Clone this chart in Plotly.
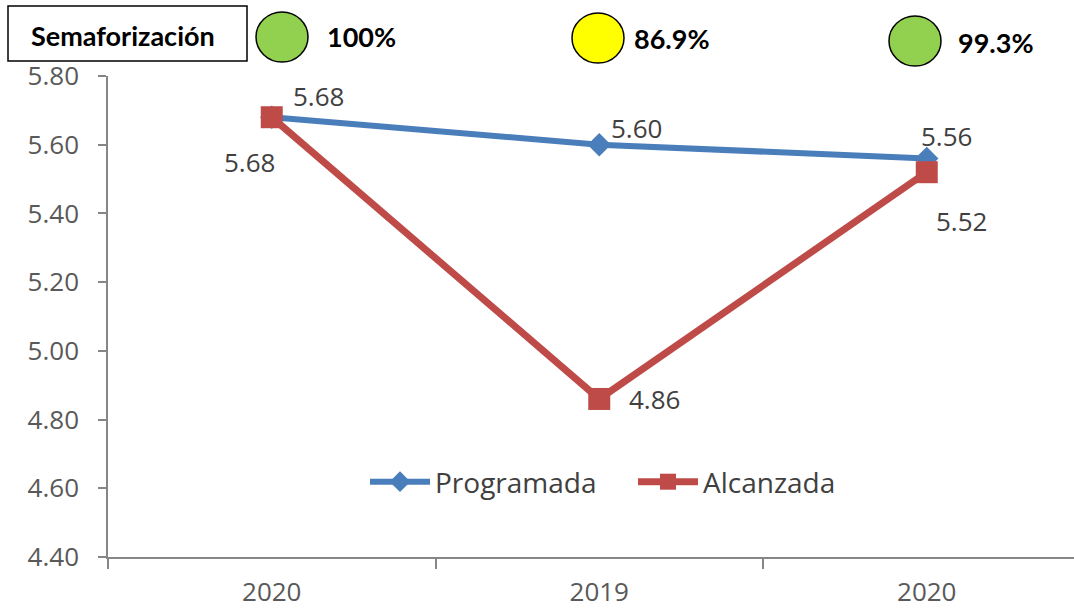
import plotly.graph_objects as go

# ---- data ----
categories = ["2020", "2019", "2020"]
programada = [5.68, 5.60, 5.56]
alcanzada = [5.68, 4.86, 5.52]
y_ticks = [4.40, 4.60, 4.80, 5.00, 5.20, 5.40, 5.60, 5.80]
semaforo_labels = ["100%", "86.9%", "99.3%"]
semaforo_colors = ["#92D050", "#FFFF00", "#92D050"]

# ---- layout geometry (pixels) ----
W, H = 1074, 613
L, T, B = 108, 76, 557
R = W
def px(x):
    return (x - L) / (R - L)
def py(y):
    return (B - y) / (B - T)

xs = list(range(len(categories)))
BLUE = "#4A7EBB"
RED = "#BE4B48"
TICK_FONT = dict(family="Open Sans", size=26, color="#595959")
LABEL_FONT = dict(family="Open Sans", size=26, color="#404040")

fig = go.Figure()
fig.add_trace(go.Scatter(
    x=xs, y=programada, name="Programada", mode="lines+markers",
    line=dict(color=BLUE, width=6),
    marker=dict(symbol="diamond", size=18, color=BLUE),
))
fig.add_trace(go.Scatter(
    x=xs, y=alcanzada, name="Alcanzada", mode="lines+markers",
    line=dict(color=RED, width=7),
    marker=dict(symbol="square", size=22, color=RED),
))

annotations = []
prog_off = [(47, 21), (37, 17), (20, 22)]
alc_off = [(-22, -45), (55, 0), (35, -49)]
for i, v in enumerate(programada):
    annotations.append(dict(x=xs[i], y=v, text=f"{v:.2f}", showarrow=False,
                            xshift=prog_off[i][0], yshift=prog_off[i][1], font=LABEL_FONT))
for i, v in enumerate(alcanzada):
    annotations.append(dict(x=xs[i], y=v, text=f"{v:.2f}", showarrow=False,
                            xshift=alc_off[i][0], yshift=alc_off[i][1], font=LABEL_FONT))

HEAD_FONT = dict(family="Lato", size=27, color="black", weight="bold")
annotations.append(dict(xref="paper", yref="paper", x=px(123), y=py(35), text="<b>Semaforización</b>",
                        showarrow=False, font=HEAD_FONT, xanchor="center", yanchor="middle"))
circle_cx = [282, 598, 915]
circle_cy = [37, 38, 41]
text_cx = [361, 672, 996]
text_cy = [37, 38, 42]

shapes = [dict(type="rect", xref="paper", yref="paper", x0=px(8), x1=px(247), y0=py(61), y1=py(6),
               line=dict(color="black", width=1.5), fillcolor="white")]
for i, lab in enumerate(semaforo_labels):
    shapes.append(dict(type="circle", xref="paper", yref="paper",
                       x0=px(circle_cx[i] - 26), x1=px(circle_cx[i] + 26),
                       y0=py(circle_cy[i] + 25), y1=py(circle_cy[i] - 25),
                       line=dict(color="black", width=1.5), fillcolor=semaforo_colors[i]))
    annotations.append(dict(xref="paper", yref="paper", x=px(text_cx[i]), y=py(text_cy[i]),
                            text=f"<b>{lab}</b>", showarrow=False, font=HEAD_FONT,
                            xanchor="center", yanchor="middle"))

fig.update_layout(
    width=W, height=H,
    margin=dict(l=L, r=W - R, t=T, b=H - B, pad=0, autoexpand=False),
    paper_bgcolor="white", plot_bgcolor="white",
    showlegend=True,
    legend=dict(orientation="h", x=px(365), y=py(482), xanchor="left", yanchor="middle",
                font=dict(family="Open Sans", size=28, color="#404040"),
                itemwidth=60, entrywidth=193, bgcolor="rgba(0,0,0,0)", traceorder="normal"),
    annotations=annotations,
    shapes=shapes,
    xaxis=dict(range=[-0.5, (R - L) / 327.5 - 0.5], tickvals=xs, ticktext=categories,
               ticks="", showgrid=False, zeroline=False, showline=True, automargin=False,
               linecolor="#868686", linewidth=1.5, tickfont=TICK_FONT, ticklabelstandoff=11,
               minor=dict(tickvals=[-0.5, 0.5, 1.5, 2.5], ticks="outside", ticklen=10,
                          tickcolor="#868686", tickwidth=1.5, showgrid=False)),
    yaxis=dict(range=[4.40, 5.80], tickvals=y_ticks, ticktext=[f"{t:.2f}" for t in y_ticks],
               ticks="outside", ticklen=8, tickcolor="#868686", tickwidth=1.5, automargin=False,
               showgrid=False, zeroline=False, showline=True, linecolor="#868686", linewidth=1.5,
               tickfont=TICK_FONT, ticklabelstandoff=14),
)

fig.write_html("out.html", config={"displayModeBar": False},
               post_script="document.body.style.margin='0';document.body.style.overflow='hidden';")
